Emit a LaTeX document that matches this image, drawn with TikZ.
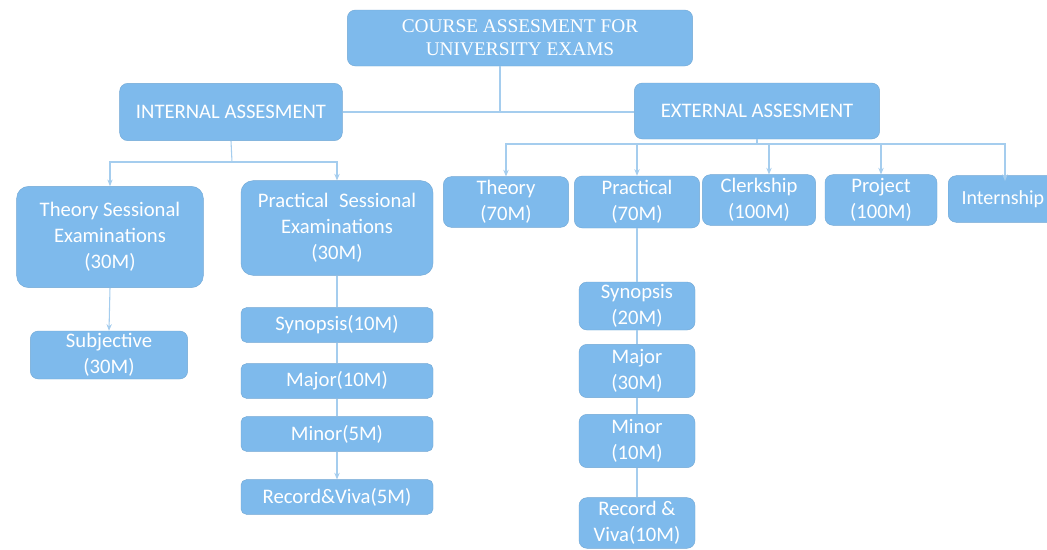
\documentclass[tikz,border=0pt]{standalone}
\usepackage{fontspec}
\newfontfamily\carl{Carlito}
\newfontfamily\tnr{Liberation Serif}
\usetikzlibrary{arrows.meta}
\definecolor{boxblue}{RGB}{126,186,236}
\definecolor{lineblue}{RGB}{165,205,238}
\tikzset{
  bx/.style={fill=boxblue, draw=boxblue!90!black, line width=0.3pt, rounded corners=6pt, text=white, align=center, inner sep=0pt,
    font=\carl\fontsize{15.5}{19.5}\selectfont},
  conn/.style={draw=lineblue, line width=0.8pt},
  arr/.style={conn, -{Stealth[length=5pt,width=4pt]}},
}
\begin{document}
\begin{tikzpicture}[x=0.75pt,y=-0.75pt]
\clip (0,0) rectangle (1047,550);
\fill[white] (0,0) rectangle (1047,550);
% level 0
\node[bx, minimum width=259pt, minimum height=42pt, font=\tnr\fontsize{14.5}{17}\selectfont] (top) at (520,38) {COURSE ASSESMENT FOR\\UNIVERSITY EXAMS};
% level 1
\node[bx, minimum width=167pt, minimum height=43pt] (int) at (231,112) {INTERNAL ASSESMENT};
\node[bx, minimum width=184pt, minimum height=42pt] (ext) at (757,111) {EXTERNAL ASSESMENT};
% internal children
\node[bx, minimum width=140pt, minimum height=76pt, rounded corners=9pt] (ts) at (110,237) {Theory Sessional\\Examinations\\(30M)};
\node[bx, minimum width=144pt, minimum height=71pt, rounded corners=9pt] (ps) at (337,228) {Practical\enspace Sessional\\Examinations\\(30M)};
\node[bx, minimum width=118pt, minimum height=36pt] (subj) at (109,355) {Subjective\\(30M)};
\node[bx, minimum width=144pt, minimum height=26pt, rounded corners=4pt] (syn1) at (337,325) {Synopsis(10M)};
\node[bx, minimum width=144pt, minimum height=26pt, rounded corners=4pt] (maj1) at (337,381) {Major(10M)};
\node[bx, minimum width=144pt, minimum height=26pt, rounded corners=4pt] (min1) at (337,434) {Minor(5M)};
\node[bx, minimum width=144pt, minimum height=26pt, rounded corners=4pt] (rec1) at (337,497) {Record\&Viva(5M)};
% external children
\node[bx, minimum width=94pt, minimum height=38pt] (th) at (506,202) {Theory\\(70M)};
\node[bx, minimum width=94pt, minimum height=39pt] (pr) at (637,202) {Practical\\(70M)};
\node[bx, minimum width=85pt, minimum height=38pt] (clk) at (759,200) {Clerkship\\(100M)};
\node[bx, minimum width=84pt, minimum height=38pt] (proj) at (881,200) {Project\\(100M)};
\node[bx, minimum width=86pt, minimum height=35pt, anchor=west, text width=80pt, align=left, font=\carl\fontsize{15}{19}\selectfont] (intern) at (948,199) {\hspace*{7pt}Internship};
\coordinate (internin) at (1005,181);
\node[bx, minimum width=87pt, minimum height=36pt] (syn2) at (637,306) {Synopsis\\(20M)};
\node[bx, minimum width=87pt, minimum height=40pt] (maj2) at (637,371) {Major\\(30M)};
\node[bx, minimum width=87pt, minimum height=40pt] (min2) at (637,441) {Minor\\(10M)};
\node[bx, minimum width=87pt, minimum height=38pt] (rec2) at (637,523) {Record \&\\Viva(10M)};
% connectors top
\coordinate (j0) at (500,112);
\draw[conn] (j0 |- top.south) -- (j0);
\draw[conn] (int.east) -- (int.east -| ext.west);
% internal branch
\coordinate (ji) at (232,162);
\draw[conn] (int.south) -- (ji);
\draw[arr] (ji) -| (ts.north);
\draw[arr] (ji) -| (ps.north);
\draw[arr] (ts.south) -- (subj.north);
\draw[conn] (ps.south) -- (syn1.north);
\draw[conn] (syn1.south) -- (maj1.north);
\draw[conn] (maj1.south) -- (min1.north);
\draw[arr] (min1.south) -- (rec1.north);
% external branch
\coordinate (je) at (757,144);
\draw[conn] (ext.south) -- (je);
\draw[arr] (je) -| (th.north);
\draw[arr] (je) -| (pr.north);
\draw[arr] (je) -| ([xshift=7.5pt]clk.north);
\draw[arr] (je) -| (proj.north);
\draw[arr] (je) -| (internin);
\draw[conn] (pr.south) -- (syn2.north);
\draw[conn] (syn2.south) -- (maj2.north);
\draw[conn] (maj2.south) -- (min2.north);
\draw[conn] (min2.south) -- (rec2.north);
\end{tikzpicture}
\end{document}
